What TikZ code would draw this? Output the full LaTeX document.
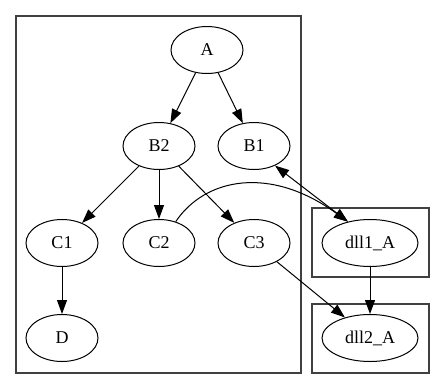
\documentclass[tikz,border=0pt]{standalone}
\usepackage{fontspec}
\setmainfont{Liberation Serif}
\usetikzlibrary{shapes.geometric,arrows.meta}
\begin{document}
\begin{tikzpicture}[x=0.75pt,y=-0.75pt,
  gnode/.style={ellipse,draw,line width=0.75pt,inner sep=0pt,minimum width=54pt,minimum height=35.25pt,font=\fontsize{13.5}{15}\selectfont},
  wnode/.style={gnode,minimum width=72pt},
  cluster/.style={draw=black!75,line width=1.1pt},
  edge/.style={line width=0.75pt,-{Triangle[length=10.5pt,width=7.5pt]}},
  bedge/.style={line width=0.75pt,{Triangle[length=10.5pt,width=7.5pt]}-{Triangle[length=10.5pt,width=7.5pt]}}]
\useasboundingbox (0,0) rectangle (445,389);
\fill[white] (0,0) rectangle (445,389);
\draw[cluster] (16,16) rectangle (301,373);
\draw[cluster] (312,208) rectangle (429,277);
\draw[cluster] (312,304) rectangle (429,373);
\node[gnode] (A) at (207,50) {A};
\node[gnode] (B2) at (159,146) {B2};
\node[gnode] (B1) at (254,146) {B1};
\node[gnode] (C1) at (62,243) {C1};
\node[gnode] (C2) at (159,243) {C2};
\node[gnode] (C3) at (254,243) {C3};
\node[gnode] (D) at (62,338) {D};
\node[wnode] (dll1) at (370,243) {dll1\_A};
\node[wnode] (dll2) at (370,338) {dll2\_A};
\draw[edge] (A) -- (B2);
\draw[edge] (A) -- (B1);
\draw[edge] (B2) -- (C1);
\draw[edge] (B2) -- (C2);
\draw[edge] (B2) -- (C3);
\draw[edge] (C1) -- (D);
\draw[edge] (C3) -- (dll2);
\draw[edge] (dll1) -- (dll2);
\draw[bedge] (B1.-43) -- (dll1.136);
\draw[edge] (C2.52) .. controls (205,178) and (270,165) .. (dll1.136);
\end{tikzpicture}
\end{document}
